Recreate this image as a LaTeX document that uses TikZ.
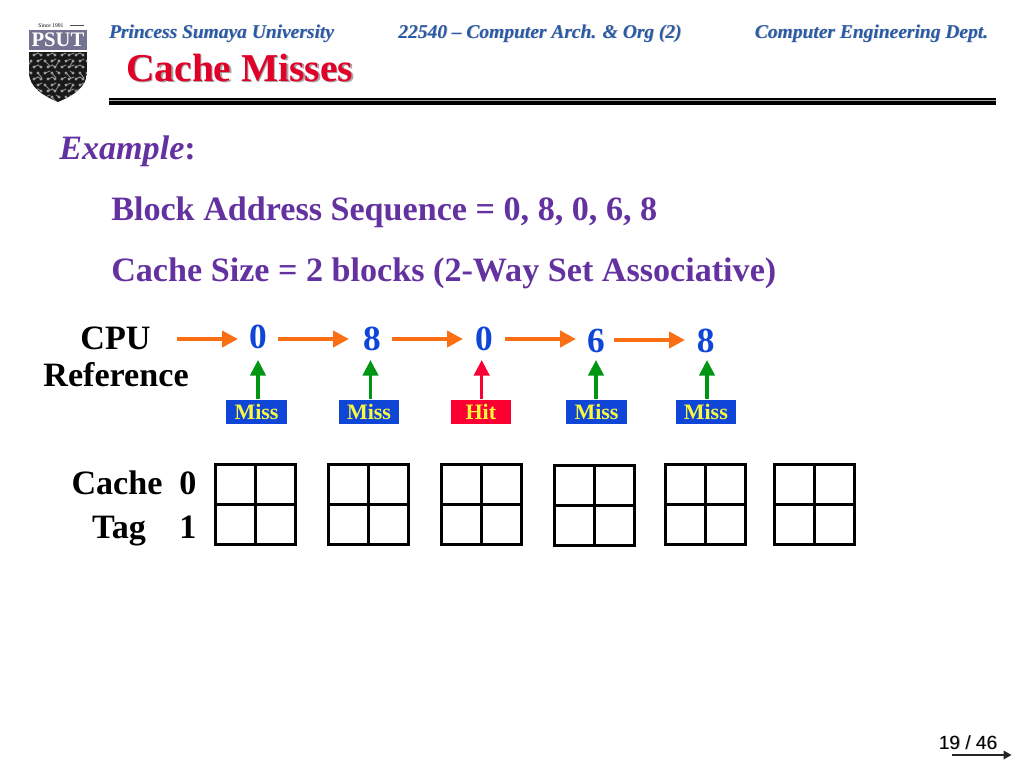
\documentclass[tikz,border=0pt]{standalone}
\usepackage{fontspec}
\setmainfont{Liberation Serif}
\newfontfamily\sansf{Liberation Sans}
\usetikzlibrary{arrows.meta}
\definecolor{hdrblue}{RGB}{40,90,170}
\definecolor{ttlred}{RGB}{225,0,40}
\definecolor{purp}{RGB}{100,50,160}
\definecolor{orng}{RGB}{250,110,20}
\definecolor{grn}{RGB}{0,150,20}
\definecolor{dblue}{RGB}{15,70,215}
\definecolor{hitred}{RGB}{250,0,50}
\definecolor{yel}{RGB}{250,250,60}
\definecolor{logogray}{RGB}{115,115,145}
\tikzset{
 hdr/.style={inner sep=0,anchor=base,font=\fontsize{14.6}{16}\selectfont\bfseries\itshape,text=hdrblue},
 hdrsh/.style={hdr,text=black!30},
 ttl/.style={inner sep=0,anchor=base west,font=\fontsize{29.6}{32}\selectfont\bfseries,text=ttlred},
 ttlsh/.style={ttl,text=black!35},
 body/.style={inner sep=0,anchor=base west,font=\fontsize{25.6}{28}\selectfont\bfseries,text=purp},
 lab/.style={inner sep=0,anchor=base,font=\fontsize{25.6}{28}\selectfont\bfseries,text=black},
 dig/.style={inner sep=0,anchor=base,font=\fontsize{26.5}{28}\selectfont\bfseries,text=dblue},
 oarr/.style={draw=orng,line width=3pt,-{Triangle[length=12pt,width=12pt]}},
 garr/.style={draw=grn,line width=2.5pt,-{Triangle[length=11.7pt,width=11.5pt]}},
 rarr/.style={draw=hitred,line width=2.5pt,-{Triangle[length=11.7pt,width=11.5pt]}},
 flag/.style={fill=dblue,minimum width=45.4pt,minimum height=18.7pt,inner sep=0,text=yel,font=\fontsize{16.5}{17}\selectfont\bfseries},
 hitflag/.style={flag,fill=hitred},
 cell/.style={draw=black,line width=2.6pt,minimum width=30pt,minimum height=30pt,inner sep=0,outer sep=0,anchor=north west},
 trace/.style={draw=black!45,line width=0.7pt,line cap=round,line join=round}
}
\newcommand{\grid}[3]{%
 \node[cell] (#1a) at (#2,#3) {};
 \node[cell] (#1b) at (#2+40,#3) {};
 \node[cell] (#1c) at (#2,#3+40) {};
 \node[cell] (#1d) at (#2+40,#3+40) {};}
\begin{document}
\begin{tikzpicture}[x=0.75pt,y=-0.75pt]
\useasboundingbox (0,0) rectangle (1024,768);
% logo
\fill[logogray] (29,29.5) rectangle (87,49.5);
\node[inner sep=0,text=white,font=\fontsize{15.5}{16}\selectfont\bfseries] (psut) at (58,40) {PSUT};
\node[inner sep=0,font=\fontsize{4.2}{5}\selectfont,text=black] (since) at (51,25.5) {Since 1991};
\draw[black!70,line width=0.8pt] (70,25.5) -- (84,25.5);
\begin{scope}
\clip (29,52) -- (87,52) -- (87,72) .. controls (87,88) and (72,96) .. (58,102) .. controls (44,96) and (29,88) .. (29,72) -- cycle;
\fill[black!90] (29,52) rectangle (87,102);
\foreach \py [count=\ri] in {55,61,67,73,79,85,91,97}{
  \foreach \px [count=\ci] in {31,38,45,52,59,66,73,80,87}{
    \pgfmathsetmacro{\ox}{\px+mod(\ri,2)*3}
    \pgfmathsetmacro{\dx}{mod(\ri*3+\ci*5,3)==0 ? 5 : (mod(\ri+\ci,2)==0 ? 4 : -3)}
    \pgfmathsetmacro{\dy}{mod(\ri+\ci*2,4)==0 ? 5 : -2}
    \draw[trace] (\ox,\py) -- (\ox+\dx,\py+\dy);
    \fill[black!38] (\ox,\py) circle[radius=1.6];
  }
}
\end{scope}
% header
\node[hdrsh] at (222.3,38.6) {Princess Sumaya University};
\node[hdr] (h1) at (221.5,38) {Princess Sumaya University};
\node[hdrsh] at (540.8,38.6) {22540 – Computer Arch. \& Org (2)};
\node[hdr] (h2) at (540,38) {22540 – Computer Arch. \& Org (2)};
\node[hdrsh] at (872.3,38.6) {Computer Engineering Dept.};
\node[hdr] (h3) at (871.5,38) {Computer Engineering Dept.};
\node[ttlsh] at (127.5,82.5) {Cache Misses};
\node[ttl] (title) at (126,81) {Cache Misses};
\fill[black!35] (109,98.5) rectangle (996,101);
\fill[black] (109,98.3) rectangle (996,100);
\fill[black] (109,101) rectangle (996,105.3);
% body
\node[body] (ex) at (59,159) {\textit{Example}\textbf{:}};
\node[body] (seq) at (111,220) {Block Address Sequence = 0, 8, 0, 6, 8};
\node[body] (size) at (111,281) {Cache Size = 2 blocks (2-Way Set Associative)};
\node[lab] (cpu) at (115.5,349) {CPU};
\node[lab] (ref) at (116,386) {Reference};
% refs
\node[dig] (d1) at (258,348.5) {0};
\node[dig] (d2) at (372,350.5) {8};
\node[dig] (d3) at (484,350) {0};
\node[dig] (d4) at (596,352.5) {6};
\node[dig] (d5) at (705.7,352.5) {8};
\coordinate (c0) at (177,339);
\coordinate (e1) at (238,339);
\coordinate (s2) at (278,339);
\coordinate (e2) at (349,339);
\coordinate (s3) at (392,339);
\coordinate (e3) at (463,339);
\coordinate (s4) at (505,339);
\coordinate (e4) at (576,339);
\coordinate (s5) at (614,340);
\coordinate (e5) at (685,340);
\draw[oarr] (c0) -- (e1);
\draw[oarr] (s2) -- (e2);
\draw[oarr] (s3) -- (e3);
\draw[oarr] (s4) -- (e4);
\draw[oarr] (s5) -- (e5);
\node[flag] (m1) at (256.5,412) {Miss};
\node[flag] (m2) at (369,412) {Miss};
\node[hitflag] (m3) at (480.8,412) {Hit};
\node[flag] (m4) at (596.5,412) {Miss};
\node[flag] (m5) at (705.8,412) {Miss};
\coordinate (t1) at (258,360);
\coordinate (t2) at (370.5,360);
\coordinate (t3) at (481.7,360);
\coordinate (t4) at (596,360);
\coordinate (t5) at (707,360);
\draw[garr] (m1.north -| t1) -- (t1);
\draw[garr] (m2.north -| t2) -- (t2);
\draw[rarr] (m3.north -| t3) -- (t3);
\draw[garr] (m4.north -| t4) -- (t4);
\draw[garr] (m5.north -| t5) -- (t5);
% cache
\node[lab] (cache) at (117,494) {Cache};
\node[lab] (tag) at (119,538) {Tag};
\node[lab] (i0) at (188,494) {0};
\node[lab] (i1) at (188,538) {1};
\grid{g1}{215.5}{464.5}
\grid{g2}{328.5}{464.5}
\grid{g3}{441.5}{464.5}
\grid{g4}{554.5}{465.5}
\grid{g5}{665.5}{464.5}
\grid{g6}{774.5}{464.5}
% page
\node[inner sep=0,anchor=base,font=\fontsize{14.3}{16}\selectfont\sansf,text=black!35] at (968.8,749.6) {19 / 46};
\node[inner sep=0,anchor=base,font=\fontsize{14.3}{16}\selectfont\sansf,text=black] (pg) at (968,749) {19 / 46};
\coordinate (pa) at (951.5,755);
\coordinate (pb) at (1011.5,755);
\draw[black!85,line width=1.2pt,-{Triangle[length=6pt,width=6.5pt]}] (pa) -- (pb);
\end{tikzpicture}
\end{document}
